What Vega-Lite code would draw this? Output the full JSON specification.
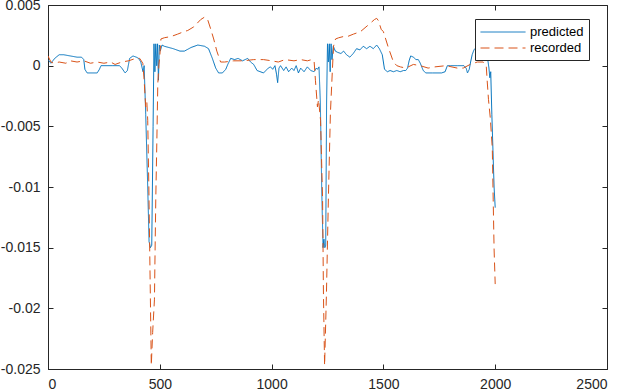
{
  "$schema": "https://vega.github.io/schema/vega-lite/v6.json",
  "width": 559,
  "height": 364,
  "autosize": {"type": "none"},
  "padding": {"left": 48, "top": 5, "right": 15, "bottom": 21},
  "background": "white",
  "config": {
    "font": "Liberation Sans",
    "view": {"stroke": "#262626", "strokeWidth": 1},
    "axis": {
      "domainColor": "#262626",
      "tickColor": "#262626",
      "labelColor": "#262626",
      "labelFontSize": 14,
      "labelFont": "Liberation Sans",
      "grid": false,
      "tickSize": -5,
      "title": null
    },
    "legend": {
      "orient": "none",
      "legendX": 427,
      "legendY": 14,
      "fillColor": "white",
      "strokeColor": "#262626",
      "padding": 5,
      "labelFontSize": 13,
      "labelColor": "#000000",
      "labelFont": "Liberation Sans",
      "symbolType": "M-3,0H3",
      "symbolSize": 225,
      "symbolStrokeWidth": 1,
      "symbolOffset": 15,
      "rowPadding": 1,
      "labelOffset": 19,
      "title": null
    }
  },
  "datasets": {
    "sig": [
      {"x": 0, "v": 0.0005, "s": "predicted"},
      {"x": 13, "v": 0.0002, "s": "predicted"},
      {"x": 30, "v": 0.0006, "s": "predicted"},
      {"x": 50, "v": 0.0009, "s": "predicted"},
      {"x": 70, "v": 0.0009, "s": "predicted"},
      {"x": 100, "v": 0.0008, "s": "predicted"},
      {"x": 130, "v": 0.0007, "s": "predicted"},
      {"x": 150, "v": 0.0007, "s": "predicted"},
      {"x": 160, "v": 0.0005, "s": "predicted"},
      {"x": 165, "v": -0.0003, "s": "predicted"},
      {"x": 175, "v": -0.0006, "s": "predicted"},
      {"x": 200, "v": -0.0006, "s": "predicted"},
      {"x": 220, "v": -0.0006, "s": "predicted"},
      {"x": 230, "v": -0.0003, "s": "predicted"},
      {"x": 237, "v": 0.0, "s": "predicted"},
      {"x": 260, "v": 0.0, "s": "predicted"},
      {"x": 290, "v": 0.0, "s": "predicted"},
      {"x": 320, "v": 0.0, "s": "predicted"},
      {"x": 330, "v": -0.0002, "s": "predicted"},
      {"x": 345, "v": -0.0006, "s": "predicted"},
      {"x": 355, "v": -0.0004, "s": "predicted"},
      {"x": 365, "v": 0.0006, "s": "predicted"},
      {"x": 380, "v": 0.0008, "s": "predicted"},
      {"x": 395, "v": 0.0007, "s": "predicted"},
      {"x": 405, "v": 0.0006, "s": "predicted"},
      {"x": 415, "v": 0.0003, "s": "predicted"},
      {"x": 425, "v": -0.0005, "s": "predicted"},
      {"x": 430, "v": 0.0, "s": "predicted"},
      {"x": 437, "v": -0.004, "s": "predicted"},
      {"x": 446, "v": -0.01, "s": "predicted"},
      {"x": 452, "v": -0.0145, "s": "predicted"},
      {"x": 458, "v": -0.015, "s": "predicted"},
      {"x": 464, "v": -0.0148, "s": "predicted"},
      {"x": 470, "v": -0.005, "s": "predicted"},
      {"x": 474, "v": 0.0018, "s": "predicted"},
      {"x": 478, "v": -0.0005, "s": "predicted"},
      {"x": 482, "v": 0.0018, "s": "predicted"},
      {"x": 486, "v": 0.0, "s": "predicted"},
      {"x": 490, "v": 0.0018, "s": "predicted"},
      {"x": 494, "v": -0.0012, "s": "predicted"},
      {"x": 498, "v": 0.0017, "s": "predicted"},
      {"x": 502, "v": 0.0012, "s": "predicted"},
      {"x": 510, "v": 0.0017, "s": "predicted"},
      {"x": 520, "v": 0.0016, "s": "predicted"},
      {"x": 540, "v": 0.0015, "s": "predicted"},
      {"x": 560, "v": 0.0014, "s": "predicted"},
      {"x": 590, "v": 0.0012, "s": "predicted"},
      {"x": 610, "v": 0.0012, "s": "predicted"},
      {"x": 640, "v": 0.0015, "s": "predicted"},
      {"x": 670, "v": 0.0017, "s": "predicted"},
      {"x": 700, "v": 0.0016, "s": "predicted"},
      {"x": 718, "v": 0.0014, "s": "predicted"},
      {"x": 735, "v": 0.0006, "s": "predicted"},
      {"x": 750, "v": -0.0002, "s": "predicted"},
      {"x": 763, "v": -0.0006, "s": "predicted"},
      {"x": 780, "v": -0.0006, "s": "predicted"},
      {"x": 795, "v": -0.0003, "s": "predicted"},
      {"x": 804, "v": 0.0001, "s": "predicted"},
      {"x": 817, "v": 0.0006, "s": "predicted"},
      {"x": 835, "v": 0.0005, "s": "predicted"},
      {"x": 850, "v": 0.0006, "s": "predicted"},
      {"x": 870, "v": 0.0004, "s": "predicted"},
      {"x": 893, "v": 0.0006, "s": "predicted"},
      {"x": 906, "v": 0.0003, "s": "predicted"},
      {"x": 920, "v": 0.0001, "s": "predicted"},
      {"x": 935, "v": -0.0004, "s": "predicted"},
      {"x": 964, "v": -0.0006, "s": "predicted"},
      {"x": 985, "v": -0.0002, "s": "predicted"},
      {"x": 995, "v": -0.0001, "s": "predicted"},
      {"x": 1005, "v": -0.0003, "s": "predicted"},
      {"x": 1015, "v": 0.0, "s": "predicted"},
      {"x": 1022, "v": -0.0007, "s": "predicted"},
      {"x": 1027, "v": -0.0014, "s": "predicted"},
      {"x": 1033, "v": -0.0002, "s": "predicted"},
      {"x": 1040, "v": 0.0, "s": "predicted"},
      {"x": 1054, "v": -0.0004, "s": "predicted"},
      {"x": 1065, "v": -0.0001, "s": "predicted"},
      {"x": 1076, "v": -0.0005, "s": "predicted"},
      {"x": 1090, "v": -0.0002, "s": "predicted"},
      {"x": 1100, "v": -0.0004, "s": "predicted"},
      {"x": 1110, "v": 0.0, "s": "predicted"},
      {"x": 1120, "v": -0.0006, "s": "predicted"},
      {"x": 1130, "v": -0.0002, "s": "predicted"},
      {"x": 1145, "v": -0.0005, "s": "predicted"},
      {"x": 1160, "v": -0.0001, "s": "predicted"},
      {"x": 1175, "v": -0.0004, "s": "predicted"},
      {"x": 1190, "v": -0.0005, "s": "predicted"},
      {"x": 1200, "v": -0.0002, "s": "predicted"},
      {"x": 1205, "v": -0.0003, "s": "predicted"},
      {"x": 1212, "v": -0.0001, "s": "predicted"},
      {"x": 1218, "v": -0.003, "s": "predicted"},
      {"x": 1224, "v": -0.01, "s": "predicted"},
      {"x": 1230, "v": -0.015, "s": "predicted"},
      {"x": 1234, "v": -0.0143, "s": "predicted"},
      {"x": 1238, "v": -0.015, "s": "predicted"},
      {"x": 1242, "v": -0.0148, "s": "predicted"},
      {"x": 1246, "v": -0.003, "s": "predicted"},
      {"x": 1250, "v": 0.0018, "s": "predicted"},
      {"x": 1254, "v": 0.0003, "s": "predicted"},
      {"x": 1258, "v": 0.0018, "s": "predicted"},
      {"x": 1262, "v": -0.0005, "s": "predicted"},
      {"x": 1266, "v": 0.0018, "s": "predicted"},
      {"x": 1270, "v": 0.0005, "s": "predicted"},
      {"x": 1276, "v": 0.0016, "s": "predicted"},
      {"x": 1285, "v": 0.0012, "s": "predicted"},
      {"x": 1295, "v": 0.0011, "s": "predicted"},
      {"x": 1310, "v": 0.001, "s": "predicted"},
      {"x": 1322, "v": 0.0012, "s": "predicted"},
      {"x": 1335, "v": 0.0009, "s": "predicted"},
      {"x": 1350, "v": 0.0007, "s": "predicted"},
      {"x": 1365, "v": 0.001, "s": "predicted"},
      {"x": 1380, "v": 0.0014, "s": "predicted"},
      {"x": 1395, "v": 0.0013, "s": "predicted"},
      {"x": 1410, "v": 0.0016, "s": "predicted"},
      {"x": 1425, "v": 0.0014, "s": "predicted"},
      {"x": 1440, "v": 0.0016, "s": "predicted"},
      {"x": 1455, "v": 0.0014, "s": "predicted"},
      {"x": 1470, "v": 0.0017, "s": "predicted"},
      {"x": 1482, "v": 0.0014, "s": "predicted"},
      {"x": 1495, "v": 0.0009, "s": "predicted"},
      {"x": 1505, "v": -0.0003, "s": "predicted"},
      {"x": 1518, "v": -0.0005, "s": "predicted"},
      {"x": 1530, "v": -0.0004, "s": "predicted"},
      {"x": 1545, "v": -0.0005, "s": "predicted"},
      {"x": 1560, "v": -0.0004, "s": "predicted"},
      {"x": 1575, "v": -0.0005, "s": "predicted"},
      {"x": 1590, "v": -0.0004, "s": "predicted"},
      {"x": 1600, "v": -0.0004, "s": "predicted"},
      {"x": 1608, "v": -0.0002, "s": "predicted"},
      {"x": 1615, "v": 0.0004, "s": "predicted"},
      {"x": 1622, "v": 0.0008, "s": "predicted"},
      {"x": 1635, "v": 0.0007, "s": "predicted"},
      {"x": 1645, "v": 0.0005, "s": "predicted"},
      {"x": 1656, "v": 0.0005, "s": "predicted"},
      {"x": 1665, "v": 0.0002, "s": "predicted"},
      {"x": 1678, "v": -0.0004, "s": "predicted"},
      {"x": 1690, "v": -0.0006, "s": "predicted"},
      {"x": 1720, "v": -0.0006, "s": "predicted"},
      {"x": 1760, "v": -0.0006, "s": "predicted"},
      {"x": 1776, "v": -0.0005, "s": "predicted"},
      {"x": 1786, "v": 0.0, "s": "predicted"},
      {"x": 1800, "v": 0.0, "s": "predicted"},
      {"x": 1830, "v": 0.0, "s": "predicted"},
      {"x": 1860, "v": 0.0, "s": "predicted"},
      {"x": 1870, "v": -0.0002, "s": "predicted"},
      {"x": 1876, "v": -0.0006, "s": "predicted"},
      {"x": 1884, "v": -0.0003, "s": "predicted"},
      {"x": 1890, "v": 0.0003, "s": "predicted"},
      {"x": 1897, "v": 0.0009, "s": "predicted"},
      {"x": 1905, "v": 0.0013, "s": "predicted"},
      {"x": 1920, "v": 0.0016, "s": "predicted"},
      {"x": 1935, "v": 0.0016, "s": "predicted"},
      {"x": 1950, "v": 0.0013, "s": "predicted"},
      {"x": 1960, "v": 0.001, "s": "predicted"},
      {"x": 1966, "v": 0.0006, "s": "predicted"},
      {"x": 1972, "v": -0.0002, "s": "predicted"},
      {"x": 1976, "v": -0.001, "s": "predicted"},
      {"x": 1980, "v": -0.0005, "s": "predicted"},
      {"x": 1985, "v": -0.004, "s": "predicted"},
      {"x": 1990, "v": -0.007, "s": "predicted"},
      {"x": 1995, "v": -0.01, "s": "predicted"},
      {"x": 2000, "v": -0.0117, "s": "predicted"},
      {"x": 0, "v": 0.0008, "s": "recorded"},
      {"x": 13, "v": 0.0003, "s": "recorded"},
      {"x": 27, "v": 0.0002, "s": "recorded"},
      {"x": 50, "v": 0.0003, "s": "recorded"},
      {"x": 80, "v": 0.0002, "s": "recorded"},
      {"x": 100, "v": 0.0004, "s": "recorded"},
      {"x": 130, "v": 0.0003, "s": "recorded"},
      {"x": 160, "v": 0.0004, "s": "recorded"},
      {"x": 190, "v": 0.0002, "s": "recorded"},
      {"x": 220, "v": 0.0003, "s": "recorded"},
      {"x": 250, "v": 0.0002, "s": "recorded"},
      {"x": 280, "v": 0.0003, "s": "recorded"},
      {"x": 300, "v": 0.0001, "s": "recorded"},
      {"x": 330, "v": 0.0003, "s": "recorded"},
      {"x": 360, "v": 0.0004, "s": "recorded"},
      {"x": 393, "v": 0.0006, "s": "recorded"},
      {"x": 410, "v": 0.0006, "s": "recorded"},
      {"x": 424, "v": 0.0002, "s": "recorded"},
      {"x": 430, "v": -0.0012, "s": "recorded"},
      {"x": 437, "v": -0.0034, "s": "recorded"},
      {"x": 442, "v": -0.003, "s": "recorded"},
      {"x": 446, "v": -0.0045, "s": "recorded"},
      {"x": 451, "v": -0.01, "s": "recorded"},
      {"x": 457, "v": -0.018, "s": "recorded"},
      {"x": 462, "v": -0.0247, "s": "recorded"},
      {"x": 468, "v": -0.022, "s": "recorded"},
      {"x": 476, "v": -0.0193, "s": "recorded"},
      {"x": 482, "v": -0.011, "s": "recorded"},
      {"x": 487, "v": -0.006, "s": "recorded"},
      {"x": 491, "v": -0.0015, "s": "recorded"},
      {"x": 496, "v": 0.0001, "s": "recorded"},
      {"x": 500, "v": 0.0008, "s": "recorded"},
      {"x": 505, "v": 0.0022, "s": "recorded"},
      {"x": 520, "v": 0.0023, "s": "recorded"},
      {"x": 550, "v": 0.0024, "s": "recorded"},
      {"x": 580, "v": 0.0026, "s": "recorded"},
      {"x": 607, "v": 0.0028, "s": "recorded"},
      {"x": 625, "v": 0.0029, "s": "recorded"},
      {"x": 652, "v": 0.0032, "s": "recorded"},
      {"x": 683, "v": 0.0038, "s": "recorded"},
      {"x": 700, "v": 0.004, "s": "recorded"},
      {"x": 714, "v": 0.0038, "s": "recorded"},
      {"x": 728, "v": 0.003, "s": "recorded"},
      {"x": 741, "v": 0.0022, "s": "recorded"},
      {"x": 755, "v": 0.0012, "s": "recorded"},
      {"x": 772, "v": 0.0003, "s": "recorded"},
      {"x": 790, "v": 0.0003, "s": "recorded"},
      {"x": 830, "v": 0.0004, "s": "recorded"},
      {"x": 875, "v": 0.0004, "s": "recorded"},
      {"x": 920, "v": 0.0005, "s": "recorded"},
      {"x": 964, "v": 0.0005, "s": "recorded"},
      {"x": 1000, "v": 0.0004, "s": "recorded"},
      {"x": 1030, "v": 0.0003, "s": "recorded"},
      {"x": 1060, "v": 0.0005, "s": "recorded"},
      {"x": 1100, "v": 0.0004, "s": "recorded"},
      {"x": 1130, "v": 0.0005, "s": "recorded"},
      {"x": 1160, "v": 0.0004, "s": "recorded"},
      {"x": 1180, "v": 0.0005, "s": "recorded"},
      {"x": 1190, "v": 0.0004, "s": "recorded"},
      {"x": 1196, "v": -0.0012, "s": "recorded"},
      {"x": 1205, "v": -0.0034, "s": "recorded"},
      {"x": 1210, "v": -0.0028, "s": "recorded"},
      {"x": 1219, "v": -0.0045, "s": "recorded"},
      {"x": 1228, "v": -0.011, "s": "recorded"},
      {"x": 1232, "v": -0.019, "s": "recorded"},
      {"x": 1237, "v": -0.0247, "s": "recorded"},
      {"x": 1245, "v": -0.019, "s": "recorded"},
      {"x": 1254, "v": -0.0109, "s": "recorded"},
      {"x": 1263, "v": -0.0039, "s": "recorded"},
      {"x": 1272, "v": -0.0003, "s": "recorded"},
      {"x": 1277, "v": 0.0016, "s": "recorded"},
      {"x": 1286, "v": 0.0022, "s": "recorded"},
      {"x": 1300, "v": 0.0023, "s": "recorded"},
      {"x": 1321, "v": 0.0024, "s": "recorded"},
      {"x": 1339, "v": 0.0024, "s": "recorded"},
      {"x": 1366, "v": 0.0026, "s": "recorded"},
      {"x": 1397, "v": 0.0028, "s": "recorded"},
      {"x": 1429, "v": 0.0033, "s": "recorded"},
      {"x": 1460, "v": 0.0038, "s": "recorded"},
      {"x": 1470, "v": 0.0039, "s": "recorded"},
      {"x": 1478, "v": 0.0037, "s": "recorded"},
      {"x": 1490, "v": 0.003, "s": "recorded"},
      {"x": 1500, "v": 0.0028, "s": "recorded"},
      {"x": 1522, "v": 0.0015, "s": "recorded"},
      {"x": 1545, "v": 0.0003, "s": "recorded"},
      {"x": 1560, "v": 0.0, "s": "recorded"},
      {"x": 1576, "v": -0.0001, "s": "recorded"},
      {"x": 1600, "v": -0.0002, "s": "recorded"},
      {"x": 1634, "v": 0.0001, "s": "recorded"},
      {"x": 1665, "v": 0.0, "s": "recorded"},
      {"x": 1700, "v": -0.0002, "s": "recorded"},
      {"x": 1730, "v": -0.0001, "s": "recorded"},
      {"x": 1780, "v": 0.0, "s": "recorded"},
      {"x": 1830, "v": -0.0002, "s": "recorded"},
      {"x": 1857, "v": -0.0002, "s": "recorded"},
      {"x": 1888, "v": 0.0001, "s": "recorded"},
      {"x": 1920, "v": 0.0003, "s": "recorded"},
      {"x": 1946, "v": 0.0003, "s": "recorded"},
      {"x": 1960, "v": 0.0, "s": "recorded"},
      {"x": 1964, "v": -0.0012, "s": "recorded"},
      {"x": 1970, "v": -0.0028, "s": "recorded"},
      {"x": 1978, "v": -0.0043, "s": "recorded"},
      {"x": 1987, "v": -0.0068, "s": "recorded"},
      {"x": 1991, "v": -0.011, "s": "recorded"},
      {"x": 1995, "v": -0.0151, "s": "recorded"},
      {"x": 2000, "v": -0.018, "s": "recorded"}
    ]
  },
  "data": {"name": "sig"},
  "layer": [
    {
      "mark": {"type": "line", "opacity": 0},
      "encoding": {
        "x": {"field": "x", "type": "quantitative", "scale": {"domain": [0, 2500], "nice": false, "zero": false},
              "axis": {"orient": "top", "values": [0, 500, 1000, 1500, 2000, 2500], "labels": false, "domain": false}},
        "y": {"field": "v", "type": "quantitative", "scale": {"domain": [-0.025, 0.005], "nice": false, "zero": false},
              "axis": {"orient": "right", "values": [-0.025, -0.02, -0.015, -0.01, -0.005, 0, 0.005], "labels": false, "domain": false}},
        "detail": {"field": "s"}
      }
    },
    {
      "mark": {"type": "line", "strokeWidth": 1, "clip": true},
      "encoding": {
        "x": {"field": "x", "type": "quantitative",
              "axis": {"orient": "bottom", "values": [0, 500, 1000, 1500, 2000, 2500], "labelExpr": "'' + datum.value", "labelPadding": 13}},
        "y": {"field": "v", "type": "quantitative",
              "axis": {"orient": "left", "values": [-0.025, -0.02, -0.015, -0.01, -0.005, 0, 0.005], "labelExpr": "'' + datum.value", "labelPadding": 13}},
        "color": {"field": "s", "type": "nominal",
                  "scale": {"domain": ["predicted", "recorded"], "range": ["#0072BD", "#D95319"]}},
        "strokeDash": {"field": "s", "type": "nominal",
                       "scale": {"domain": ["predicted", "recorded"], "range": [[1, 0], [9, 5]]}}
      }
    }
  ],
  "resolve": {"axis": {"x": "independent", "y": "independent"}}
}
